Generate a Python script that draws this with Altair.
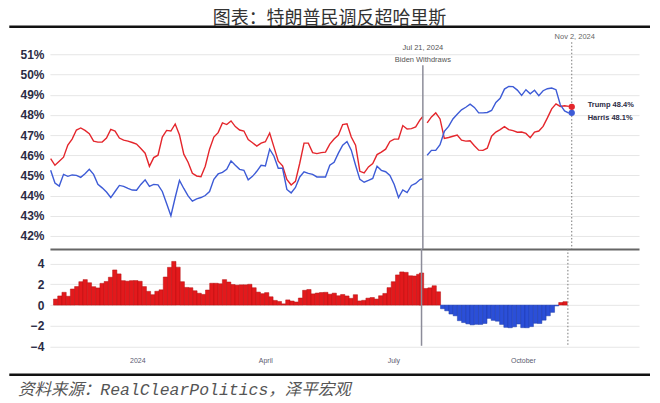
import altair as alt
import pandas as pd

# ---------------- data ----------------
title_text = "图表：特朗普民调反超哈里斯"
source_text = "资料来源：RealClearPolitics，泽平宏观"

# RCP average, every 3 days from 2023-11-04 to 2024-07-19, plus 2024-07-21
trump_vs_biden = [45.83, 45.5, 45.7, 45.9, 46.5, 46.8, 47.25, 47.35, 47.23, 47.07,
                  46.7, 46.65, 46.65, 46.85, 47.28, 47.2, 46.85, 46.75, 46.7, 46.63,
                  46.55, 46.33, 46.1, 45.45, 45.88, 46.0, 46.9, 47.23, 47.2, 47.55,
                  47.0, 46.05, 45.65, 45.1, 44.97, 44.93, 45.45, 46.3, 46.9, 47.12,
                  47.6, 47.52, 47.7, 47.42, 47.25, 47.2, 46.78, 46.62, 46.45, 46.6,
                  46.67, 47.1, 46.4, 45.7, 45.47, 44.8, 44.52, 44.7, 45.6, 46.6,
                  46.6, 46.13, 46.08, 46.13, 46.15, 46.55, 46.8, 47.0, 47.52, 47.56,
                  46.9, 46.5, 45.2, 45.12, 45.42, 45.58, 46.03, 46.15, 46.3, 46.68,
                  46.8, 46.8, 47.47, 47.3, 47.32, 47.4, 47.75, 47.92]
biden = [45.25, 44.62, 44.47, 45.05, 44.95, 45.02, 45.0, 44.9, 45.08, 45.3,
         45.05, 44.56, 44.38, 44.17, 43.9, 44.2, 44.5, 44.45, 44.35, 44.27,
         44.26, 44.55, 44.78, 44.45, 44.55, 44.53, 44.2, 43.6, 43.0, 43.9,
         44.75, 44.35, 43.98, 43.72, 43.83, 43.9, 44.0, 44.2, 44.8, 45.07,
         45.15, 45.3, 45.72, 45.5, 45.3, 45.25, 44.78, 44.95, 45.2, 45.5,
         45.47, 46.3, 45.95, 45.35, 45.35, 44.3, 44.13, 44.4, 44.92, 45.18,
         45.1, 45.05, 44.92, 44.92, 44.92, 45.5, 45.65, 46.1, 46.5, 46.68,
         46.25, 45.5, 44.8, 44.66, 44.75, 44.85, 45.45, 45.25, 45.18, 45.0,
         44.55, 43.9, 44.28, 44.15, 44.5, 44.6, 44.79, 44.83]

# every 3 days from 2024-07-24 to 2024-10-31
trump_vs_harris = [47.6, 47.9, 48.1, 47.8, 46.83, 46.88, 46.94, 47.0, 46.75, 46.7,
                   46.72, 46.47, 46.25, 46.24, 46.35, 46.94, 47.15, 47.27, 47.42, 47.27,
                   47.22, 47.14, 47.15, 47.08, 46.87, 47.15, 47.2, 47.43, 47.85, 48.3,
                   48.55, 48.42, 48.45, 48.42]
harris = [46.0, 46.24, 46.24, 46.52, 47.18, 47.43, 47.8, 48.03, 48.25, 48.38,
          48.53, 48.37, 48.1, 48.1, 48.12, 48.22, 48.62, 48.82, 49.28, 49.41,
          49.4, 49.23, 48.97, 49.25, 49.05, 49.22, 48.95, 49.2, 49.3, 49.33,
          49.25, 48.5, 48.2, 48.09]

final_date = "2024-11-02"
final_values = [48.4, 48.1]
final_labels = ["Trump 48.4%", "Harris 48.1%"]
withdraw_date = "2024-07-21"
withdraw_labels = ["Jul 21, 2024", "Biden Withdraws"]
final_label = "Nov 2, 2024"
pct_ticks = [42, 43, 44, 45, 46, 47, 48, 49, 50, 51]
spread_ticks = [-4, -2, 0, 2, 4]

biden_era_dates = list(pd.date_range("2023-11-04", "2024-07-19", freq="3D")) + [pd.Timestamp(withdraw_date)]
harris_era_dates = list(pd.date_range("2024-07-24", "2024-10-31", freq="3D"))

RED = "#e4262c"
BLUE = "#3d5bd6"
BAR_RED = "#e3191c"
BAR_RED_EDGE = "#b51212"
BAR_BLUE = "#2b4fd8"
BAR_BLUE_EDGE = "#1d3aa8"
LABEL = "#2b2b45"
FONT = "Liberation Sans"

# ---------------- tables ----------------
def seg(dates, vals, name, color):
    return pd.DataFrame({"date": dates, "value": vals, "seg": name, "color": color})

lines = pd.concat([
    seg(biden_era_dates, trump_vs_biden, "T1", RED),
    seg(biden_era_dates, biden, "B", BLUE),
    seg(harris_era_dates, trump_vs_harris, "T2", RED),
    seg(harris_era_dates, harris, "H", BLUE),
], ignore_index=True)

spread_vals = [round(t - b, 2) for t, b in zip(trump_vs_biden, biden)] + \
              [round(t - h, 2) for t, h in zip(trump_vs_harris, harris)]
spread = pd.DataFrame({"date": biden_era_dates + harris_era_dates, "spread": spread_vals})
spread["fill"] = [BAR_RED if v >= 0 else BAR_BLUE for v in spread["spread"]]
spread["edge"] = [BAR_RED_EDGE if v >= 0 else BAR_BLUE_EDGE for v in spread["spread"]]

event = pd.DataFrame({"date": [pd.Timestamp(withdraw_date)], "l1": [withdraw_labels[0]], "l2": [withdraw_labels[1]]})
final_ev = pd.DataFrame({"date": [pd.Timestamp(final_date)], "l": [final_label]})
finals = pd.DataFrame({"date": [pd.Timestamp(final_date)] * 2, "value": final_values,
                       "color": [RED, BLUE], "label": final_labels})
tdf = pd.DataFrame({"t": [title_text]})
sdf = pd.DataFrame({"t": [source_text]})

# ---------------- scales / axes ----------------
xs = alt.Scale(domain=[alt.DateTime(year=2023, month=11, date=3, hours=12),
                       alt.DateTime(year=2024, month=12, date=19)])
top_x_axis = alt.Axis(title=None, labels=False, ticks=False, grid=False, domain=True,
                      domainColor="#666666", domainWidth=2)
X_top = alt.X("date:T", scale=xs, axis=top_x_axis)

top_y_axis = alt.Axis(title=None, values=pct_ticks, labelExpr="datum.value + '%'",
                      labelFont=FONT, labelFontSize=12, labelFontWeight="bold",
                      labelColor=LABEL, labelPadding=6, labelOverlap=False,
                      ticks=False, domain=False,
                      grid=True, gridColor="#e6e6e6", gridWidth=1)
top_y = alt.Y("value:Q", scale=alt.Scale(domain=[41.35, 52.0], nice=False, zero=False),
              axis=top_y_axis)

bot_x_axis = alt.Axis(title=None,
                      values=[alt.DateTime(year=2024, month=m, date=1) for m in (1, 4, 7, 10)],
                      labelExpr="month(datum.value) == 0 ? '2024' : timeFormat(datum.value, '%B')",
                      labelFont=FONT, labelFontSize=7, labelColor="#5a5a70", labelPadding=8,
                      ticks=False, domain=False, grid=False)
X_bot = alt.X("date:T", scale=xs, axis=bot_x_axis)

bot_y = alt.Y("spread:Q", stack=None, scale=alt.Scale(domain=[-4.2, 5.4], nice=False),
              axis=alt.Axis(title=None, values=spread_ticks, labelFont=FONT, labelFontSize=12,
                            labelFontWeight="bold", labelColor=LABEL, labelPadding=6,
                            labelOverlap=False, ticks=False,
                            domain=False, grid=True, gridColor="#e6e6e6", gridWidth=1))

# ---------------- top panel ----------------
lines_layer = alt.Chart(lines).mark_line(strokeWidth=1.4).encode(
    x=X_top, y=top_y, color=alt.Color("color:N", scale=None), detail="seg:N")

rule_top = alt.Chart(event).mark_rule(color="#8c8c99", strokeWidth=1.5).encode(
    x=X_top, y=alt.value(31), y2=alt.value(215))
dot_top = alt.Chart(final_ev).mark_rule(color="#777777", strokeWidth=1, strokeDash=[1.5, 2]).encode(
    x=X_top, y=alt.value(8), y2=alt.value(215))
ev1 = alt.Chart(event).mark_text(font=FONT, fontSize=7.5, color="#555555", align="center",
                                 baseline="middle").encode(x=X_top, y=alt.value(14), text="l1:N")
ev2 = alt.Chart(event).mark_text(font=FONT, fontSize=7.5, color="#555555", align="center",
                                 baseline="middle").encode(x=X_top, y=alt.value(26), text="l2:N")
ev3 = alt.Chart(final_ev).mark_text(font=FONT, fontSize=7.5, color="#666666", align="center",
                                    baseline="middle", dx=3).encode(x=X_top, y=alt.value(3), text="l:N")

dots = alt.Chart(finals).mark_circle(size=40, opacity=1).encode(
    x=X_top, y=top_y, color=alt.Color("color:N", scale=None))
lab_t = alt.Chart(finals.iloc[[0]]).mark_text(font=FONT, fontSize=7.5, fontWeight="bold", color=LABEL,
                                              align="left", baseline="middle", dx=16, dy=-2).encode(
    x=X_top, y=top_y, text="label:N")
lab_h = alt.Chart(finals.iloc[[1]]).mark_text(font=FONT, fontSize=7.5, fontWeight="bold", color=LABEL,
                                              align="left", baseline="middle", dx=16, dy=5).encode(
    x=X_top, y=top_y, text="label:N")

# invisible anchor keeps the page's top edge 26px above the plot
anchor = alt.Chart(tdf).mark_rule(opacity=0, strokeWidth=1).encode(
    x=alt.value(0), x2=alt.value(10), y=alt.value(-25.5))
title_layer = alt.Chart(tdf).mark_text(font="Noto Sans CJK SC", fontSize=18, color="#333333",
                                       align="center", baseline="top").encode(
    x=alt.value(280), y=alt.value(-24), text="t:N")
title_rule = alt.Chart(tdf).mark_rule(color="#111111", strokeWidth=2.5).encode(
    x=alt.value(-40.7), x2=alt.value(601), y=alt.value(-7.5))

top = alt.layer(lines_layer, rule_top, dot_top, ev1, ev2, ev3, dots, lab_t, lab_h,
                anchor, title_layer, title_rule).properties(width=590, height=215)

# ---------------- bottom panel ----------------
bars = alt.Chart(spread).mark_bar(size=4.3, strokeWidth=0.5).encode(
    x=X_bot, y=bot_y,
    color=alt.Color("fill:N", scale=None),
    stroke=alt.Stroke("edge:N", scale=None))
rule_bot = alt.Chart(event).mark_rule(color="#8c8c99", strokeWidth=1.5).encode(
    x=X_bot, y=alt.value(0), y2=alt.value(97))
dot_bot = alt.Chart(final_ev).mark_rule(color="#777777", strokeWidth=1, strokeDash=[1.5, 2]).encode(
    x=X_bot, y=alt.value(0), y2=alt.value(96))
src_rule = alt.Chart(sdf).mark_rule(color="#111111", strokeWidth=2.5).encode(
    x=alt.value(-40.7), x2=alt.value(601), y=alt.value(126))
src_text = alt.Chart(sdf).mark_text(font="Liberation Mono, Noto Sans CJK SC", fontSize=16.5,
                                    fontStyle="italic", color="#555555", align="left",
                                    baseline="alphabetic").encode(
    x=alt.value(-32), y=alt.value(146), text="t:N")

bottom = alt.layer(bars, rule_bot, dot_bot, src_rule, src_text).properties(width=590, height=100)

chart = alt.vconcat(top, bottom, spacing=0, bounds="flush").resolve_scale(
    x="independent", y="independent"
).properties(
    padding={"left": 0, "top": 0, "right": 0, "bottom": 0}, background="white"
).configure_view(strokeWidth=0)

chart.save("out.html", embed_options={"renderer": "svg", "actions": False})
